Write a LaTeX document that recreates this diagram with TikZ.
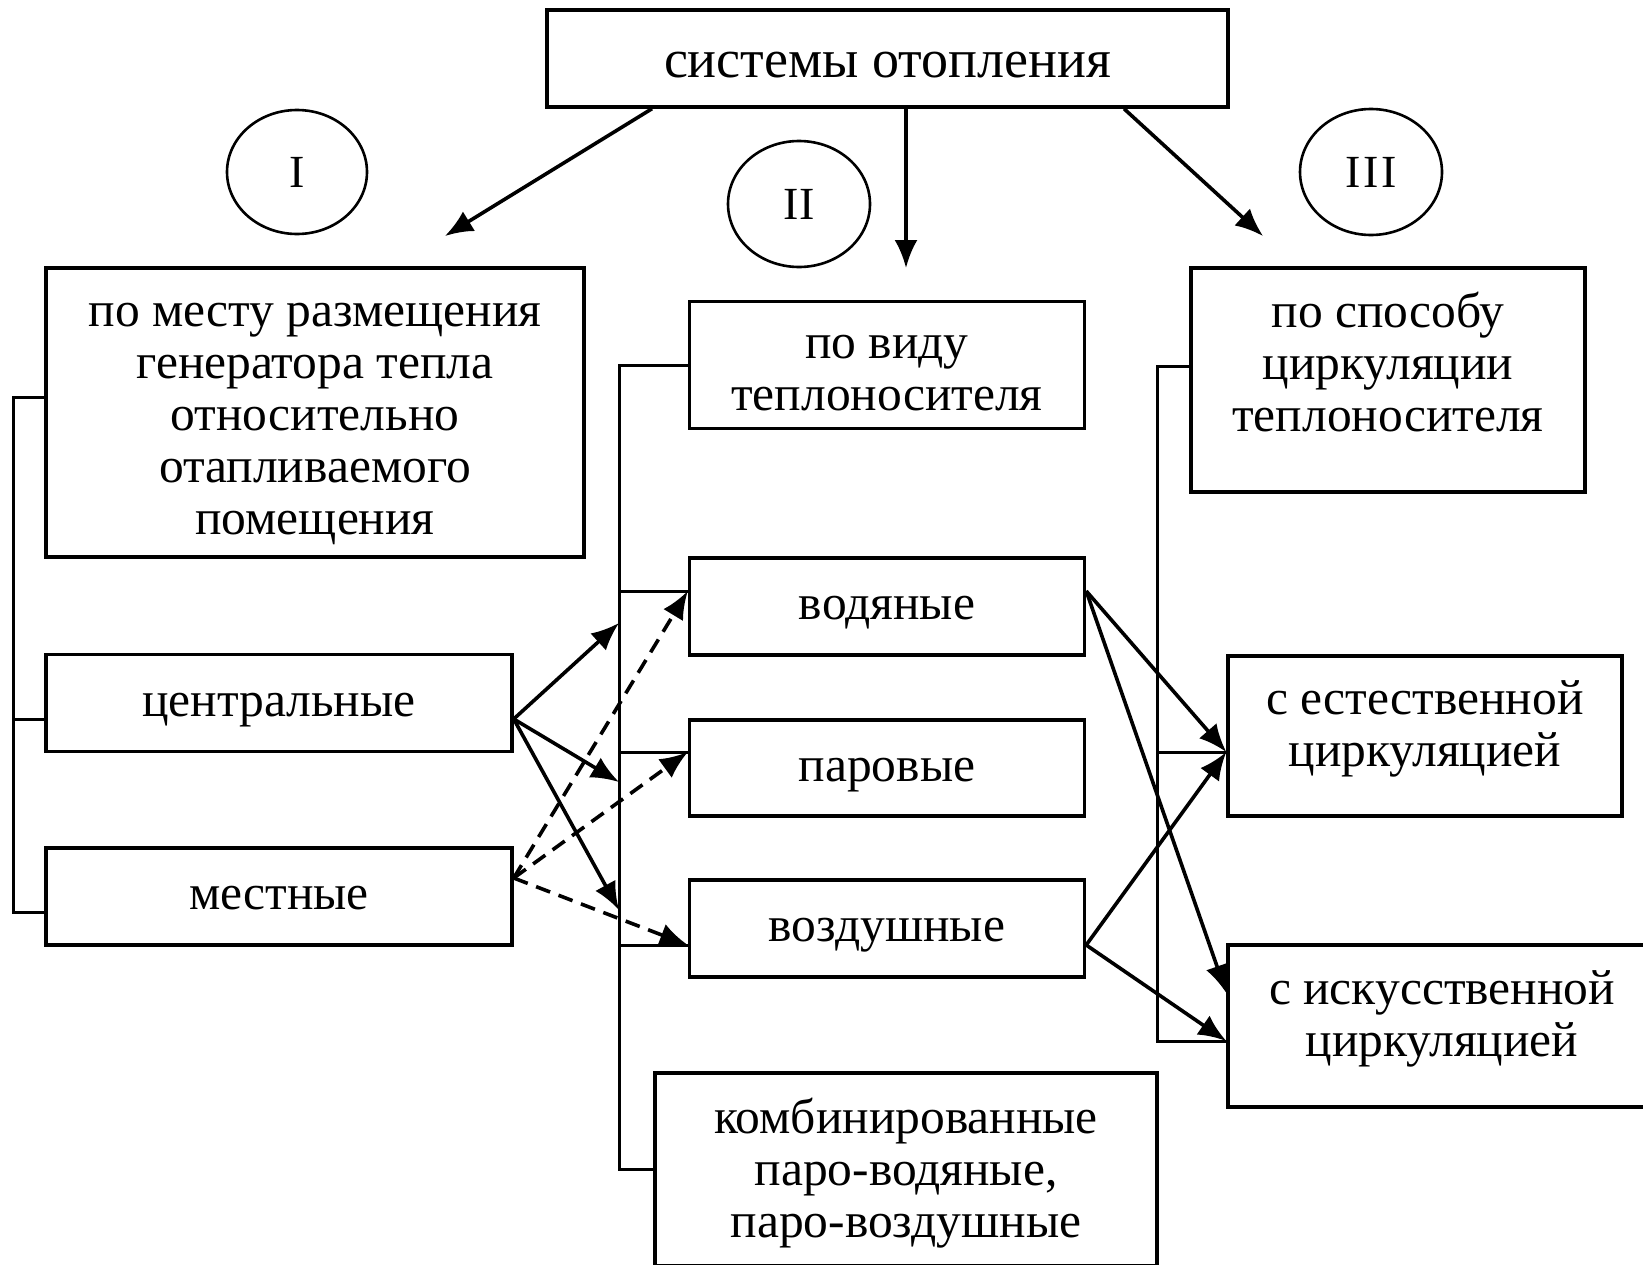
\documentclass[tikz,border=0pt]{standalone}
\usepackage{fontspec}
\setmainfont{Liberation Serif}
\usetikzlibrary{arrows.meta,shapes.geometric}
\begin{document}
\begin{tikzpicture}[x=1pt,y=-1pt,
  txt/.style={inner sep=0pt,align=center,font=\fontsize{49.5}{52}\selectfont,
    execute at begin node=\strut,execute at end node=\strut},
  box/.style={draw,line width=3.4pt,inner sep=0pt},
  br/.style={line width=3pt},
  arr/.style={line width=3.6pt,-{Latex[length=28pt,width=23pt]}},
  darr/.style={arr,dash pattern=on 15pt off 9pt},
  oval/.style={draw,ellipse,line width=2.6pt,inner sep=0pt,font=\fontsize{46}{50}\selectfont}]
\useasboundingbox (0,0) rectangle (1643,1264);
\fill[white] (0,0) rectangle (1643,1264);

% boxes
\node[box,minimum width=681pt,minimum height=97pt] (top) at (887.5,58.5) {};
\node[txt,font=\fontsize{54}{56}\selectfont] (ttop) at ([yshift=-8pt]top.center) {системы отопления};
\node[box,minimum width=538pt,minimum height=289pt] (lb1) at (315,412.5) {};
\node[txt] (tlb1) at ([yshift=-14pt]lb1.center) {по месту размещения\\генератора тепла\\относительно\\отапливаемого\\помещения};
\node[box,minimum width=466pt,minimum height=97pt] (centr) at (279,703) {};
\node[txt] (tcentr) at ([yshift=-3pt]centr.center) {центральные};
\node[box,minimum width=466pt,minimum height=97pt] (mest) at (279,896.5) {};
\node[txt] (tmest) at ([yshift=-3pt]mest.center) {местные};
\node[box,minimum width=395pt,minimum height=127pt] (pvid) at (887,365) {};
\node[txt] (tpvid) at ([yshift=-16pt]pvid.center) {по виду\\теплоносителя};
\node[box,minimum width=395pt,minimum height=97pt] (vod) at (887,606.5) {};
\node[txt] (tvod) at ([yshift=-3pt]vod.center) {водяные};
\node[box,minimum width=395pt,minimum height=96pt] (par) at (887,768) {};
\node[txt] (tpar) at ([yshift=-3pt]par.center) {паровые};
\node[box,minimum width=395pt,minimum height=97pt] (vozd) at (887,928.5) {};
\node[txt] (tvozd) at ([yshift=-3pt]vozd.center) {воздушные};
\node[box,minimum width=502pt,minimum height=193pt] (komb) at (906,1169.5) {};
\node[txt] (tkomb) at ([yshift=-6pt]komb.center) {комбинированные\\паро-водяные,\\паро-воздушные};
\node[box,minimum width=394pt,minimum height=224pt] (spos) at (1388,380) {};
\node[txt] (tspos) at ([yshift=10pt]spos.center) {по способу\\циркуляции\\теплоносителя};
\node[box,minimum width=394pt,minimum height=160pt] (est) at (1425,736) {};
\node[txt] (test) at ([yshift=5pt]est.center) {с естественной\\циркуляцией};
\node[box,minimum width=432pt,minimum height=162pt] (isk) at (1444,1026) {};
\node[txt] (tisk) at ([yshift=5pt,xshift=-2pt]isk.center) {с искусственной\\циркуляцией};

% ovals
\node[oval,minimum width=140pt,minimum height=124pt] (o1) at (297,172) {I};
\node[oval,minimum width=142pt,minimum height=126pt] (o2) at (799,204) {I\kern1pt I};
\node[oval,minimum width=142pt,minimum height=126pt] (o3) at (1371,172) {I\kern3pt I\kern3pt I};

% arrows from top
\coordinate (e1) at (445,236);
\coordinate (e2) at (906,268);
\coordinate (e3) at (1263,236);
\draw[arr] ([xshift=-235.5pt]top.south) -- (e1);
\draw[arr] ([xshift=18.5pt]top.south) -- (e2);
\draw[arr] ([xshift=236.5pt]top.south) -- (e3);

% left bracket
\coordinate (L1) at (13,397);
\coordinate (L2) at (13,719);
\coordinate (L3) at (13,912);
\draw[br] ([yshift=15.5pt]lb1.west) -- (L1) -- (L3) -- ([yshift=-15.5pt]mest.west);
\draw[br] (L2) -- ([yshift=-16pt]centr.west);

% middle bracket
\coordinate (M0) at (619,365);
\coordinate (M1) at (619,591);
\coordinate (M2) at (619,752);
\coordinate (M3) at (619,945);
\coordinate (M4) at (619,1169.5);
\draw[br] (pvid.west) -- (M0) -- (M4) -- (komb.west);
\draw[br] (M1) -- ([yshift=15.5pt]vod.west);
\draw[br] (M2) -- ([yshift=16pt]par.west);
\draw[br] (M3) -- ([yshift=-16.5pt]vozd.west);

% right bracket
\coordinate (R0) at (1157,366);
\coordinate (R1) at (1157,752);
\coordinate (R2) at (1157,1041);
\draw[br] ([yshift=14pt]spos.west) -- (R0) -- (R2) -- ([yshift=-15pt]isk.west);
\draw[br] (R1) -- ([yshift=-16pt]est.west);

% solid arrows from центральные
\coordinate (T1) at (619,623);
\coordinate (T2) at (619,782);
\coordinate (T3) at (619,910);
\draw[arr] ([yshift=-16pt]centr.east) -- (T1);
\draw[arr] ([yshift=-16pt]centr.east) -- (T2);
\draw[arr] ([yshift=-16pt]centr.east) -- (T3);

% dashed arrows from местные
\draw[darr] ([yshift=18.5pt]mest.east) -- ([yshift=15.5pt]vod.west);
\draw[darr] ([yshift=18.5pt]mest.east) -- ([yshift=16pt]par.west);
\draw[darr] ([yshift=18.5pt]mest.east) -- ([yshift=-16.5pt]vozd.west);

% arrows to circulation boxes
\draw[arr] ([yshift=15.5pt]vod.east) -- ([yshift=-16pt]est.west);
\draw[arr] ([yshift=15.5pt]vod.east) -- ([yshift=33pt]isk.west);
\draw[arr] ([yshift=-16.5pt]vozd.east) -- ([yshift=-16pt]est.west);
\draw[arr] ([yshift=-16.5pt]vozd.east) -- ([yshift=-15pt]isk.west);
\end{tikzpicture}
\end{document}
